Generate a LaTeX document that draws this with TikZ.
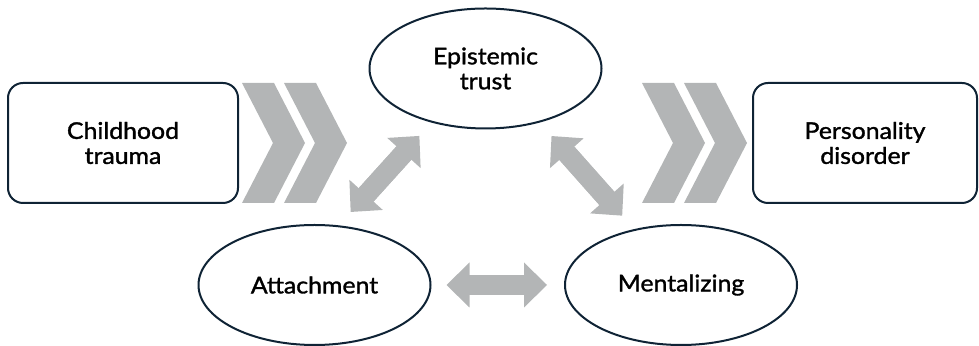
\documentclass[tikz,border=0pt]{standalone}
\usepackage{fontspec}
\setmainfont{Lato}[FakeBold=1.4, FakeStretch=1.08]
\usetikzlibrary{shapes.geometric, arrows.meta}

\definecolor{navy}{HTML}{0F2335}
\definecolor{arrowgray}{HTML}{B3B5B6}

\tikzset{
    label font/.style={font=\fontsize{11.5}{12.5}\selectfont},
    box/.style={draw=navy, line width=1pt, rounded corners=7.5pt, minimum width=115pt, minimum height=60pt, align=center, label font},
    oval/.style={ellipse, draw=navy, line width=1pt, minimum width=116pt, minimum height=60pt, inner sep=0pt, align=center, label font},
    twoway/.style 2 args={arrowgray, line width=10pt,
        {Triangle[length=11.5pt, width=22.5pt, line width=0pt]}-{Triangle[length=11.5pt, width=22.5pt, line width=0pt]},
        shorten <=#1, shorten >=#2,
        postaction={draw, arrows=-, shorten <=#1+8pt, shorten >=#2+8pt}},
}

\begin{document}
\begin{tikzpicture}[x=0.5pt, y=-0.5pt]
    \useasboundingbox (0,0) rectangle (979,346);

    % boxes
    \node[box] (trauma) at (123,143) {Childhood\\trauma};
    \node[box, minimum width=112pt] (disorder) at (865,143) {Personality\\disorder};

    % ellipses
    \node[oval] (trust) at (485.5,68.5) {Epistemic\\trust};
    \node[oval] (attach) at (314.5,285) {Attachment};
    \node[oval] (mental) at (681,285) {Mentalizing};

    % chevrons
    \foreach \x in {242, 284, 642, 684} {
        \fill[arrowgray] (\x,83) -- ++(32,0) -- ++(31,60) -- ++(-31,60) -- ++(-32,0) -- ++(31,-60) -- cycle;
    }

    % two-way arrows
    \draw[twoway={9pt}{9pt}] (attach.68) -- (trust.225);
    \draw[twoway={9pt}{9pt}] (trust.-45) -- (mental.130);
    \draw[twoway={7.5pt}{8.5pt}] (attach.east) -- (mental.west);
\end{tikzpicture}
\end{document}
